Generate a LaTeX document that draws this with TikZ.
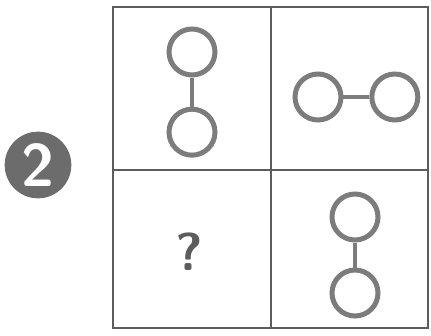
\documentclass[tikz,border=0pt]{standalone}
\usetikzlibrary{positioning}
\definecolor{inkgray}{HTML}{5C5C5C}
\definecolor{ringgray}{HTML}{7C7C7C}
\tikzset{
  ring/.style={circle, draw=ringgray, line width=3pt, minimum size=27.6pt, inner sep=0pt},
  link/.style={draw=ringgray, line width=2pt},
  gridline/.style={draw=inkgray, line width=1.2pt},
  badge/.style={circle, fill=inkgray!90, minimum size=40pt, inner sep=0pt, text=white, font=\sffamily\bfseries\fontsize{36}{36}\selectfont}
}
\begin{document}
\begin{tikzpicture}[x=0.6pt, y=-0.6pt]
    \useasboundingbox (0,0) rectangle (431,336);
    % frame and cells
    \draw [gridline] (113,7) rectangle (428,328);
    \draw [gridline] (271,7) -- (271,328);
    \draw [gridline] (113,170) -- (428,170);

    \node (num) [badge] at (38,165) {2};

    % top left: vertical pair
    \node (tlTop) [ring] at (192,52) {};
    \node (tlBot) [ring, below=17.5pt of tlTop] {};
    % top right: horizontal pair
    \node (trLeft) [ring] at (318,97) {};
    \node (trRight) [ring, right=15.5pt of trLeft] {};
    % bottom right: vertical pair
    \node (brTop) [ring] at (355,217) {};
    \node (brBot) [ring, below=15pt of brTop] {};

    \node (ask) [text=inkgray, font=\sffamily\bfseries\fontsize{32}{32}\selectfont] at (189,252) {?};

    \draw [link] (tlTop) -- (tlBot);
    \draw [link] (trLeft) -- (trRight);
    \draw [link] (brTop) -- (brBot);
\end{tikzpicture}
\end{document}
